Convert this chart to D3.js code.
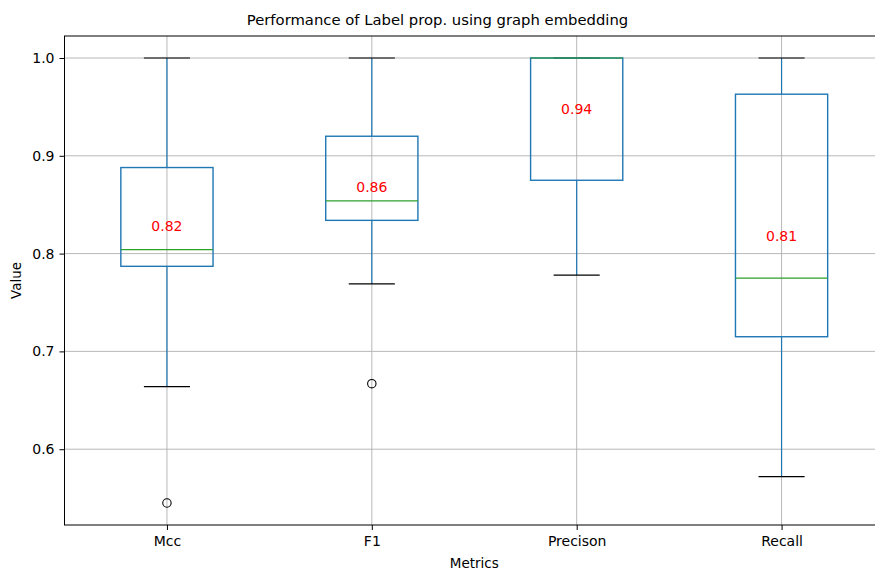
<!DOCTYPE html>
<html>
<head>
<meta charset="utf-8">
<script src="https://cdn.jsdelivr.net/npm/d3@7"></script>
<style>
  body { margin: 0; background: #fff; }
  svg { font-family: "DejaVu Sans", sans-serif; }
</style>
</head>
<body>
<svg id="chart"></svg>
<script>
// Box statistics
const metrics = ['Mcc', 'F1', 'Precison', 'Recall'];
const whiskerLow = [0.664, 0.769, 0.778, 0.572];
const q1 = [0.787, 0.834, 0.875, 0.715];
const median = [0.804, 0.854, 1.0, 0.775];
const q3 = [0.888, 0.920, 1.0, 0.963];
const whiskerHigh = [1.0, 1.0, 1.0, 1.0];
const outliers = [[0.545], [0.667], [], []];
const means = [0.82, 0.86, 0.94, 0.81];
const yTicks = [0.6, 0.7, 0.8, 0.9, 1.0];

const width = 875;
const height = 570;
const margin = { top: 36, right: -9, bottom: 45, left: 64.5 };

const svg = d3.select('#chart')
  .attr('width', width)
  .attr('height', height);

const innerW = width - margin.left - margin.right;
const innerH = height - margin.top - margin.bottom;

const g = svg.append('g')
  .attr('transform', `translate(${margin.left},${margin.top})`);

// positions 1..4 like matplotlib, xlim 0.5..4.5
const x = d3.scaleLinear().domain([0.5, 4.5]).range([0, innerW]);
const y = d3.scaleLinear().domain([0.5225, 1.0225]).range([innerH, 0]);

const boxW = x(1.45) - x(1);
const capW = boxW / 2;

// grid
g.append('g')
  .selectAll('line')
  .data(yTicks)
  .join('line')
  .attr('x1', 0).attr('x2', innerW)
  .attr('y1', d => y(d)).attr('y2', d => y(d))
  .attr('stroke', '#b0b0b0').attr('stroke-width', 0.9);

g.append('g')
  .selectAll('line')
  .data(metrics)
  .join('line')
  .attr('x1', (d, i) => x(i + 1)).attr('x2', (d, i) => x(i + 1))
  .attr('y1', 0).attr('y2', innerH)
  .attr('stroke', '#b0b0b0').attr('stroke-width', 0.9);

// boxes
const boxes = g.append('g')
  .selectAll('g')
  .data(metrics)
  .join('g');

boxes.append('line') // lower whisker
  .attr('x1', (d, i) => x(i + 1)).attr('x2', (d, i) => x(i + 1))
  .attr('y1', (d, i) => y(q1[i])).attr('y2', (d, i) => y(whiskerLow[i]))
  .attr('stroke', '#1f77b4').attr('stroke-width', 1.2);

boxes.append('line') // upper whisker
  .attr('x1', (d, i) => x(i + 1)).attr('x2', (d, i) => x(i + 1))
  .attr('y1', (d, i) => y(q3[i])).attr('y2', (d, i) => y(whiskerHigh[i]))
  .attr('stroke', '#1f77b4').attr('stroke-width', 1.2);

boxes.append('line') // lower cap
  .attr('x1', (d, i) => x(i + 1) - capW / 2).attr('x2', (d, i) => x(i + 1) + capW / 2)
  .attr('y1', (d, i) => y(whiskerLow[i])).attr('y2', (d, i) => y(whiskerLow[i]))
  .attr('stroke', '#000').attr('stroke-width', 1.2);

boxes.append('line') // upper cap
  .attr('x1', (d, i) => x(i + 1) - capW / 2).attr('x2', (d, i) => x(i + 1) + capW / 2)
  .attr('y1', (d, i) => y(whiskerHigh[i])).attr('y2', (d, i) => y(whiskerHigh[i]))
  .attr('stroke', '#000').attr('stroke-width', 1.2);

boxes.append('rect')
  .attr('x', (d, i) => x(i + 1) - boxW / 2)
  .attr('width', boxW)
  .attr('y', (d, i) => y(q3[i]))
  .attr('height', (d, i) => y(q1[i]) - y(q3[i]))
  .attr('fill', 'none')
  .attr('stroke', '#1f77b4').attr('stroke-width', 1.4);

boxes.append('line') // median
  .attr('x1', (d, i) => x(i + 1) - boxW / 2).attr('x2', (d, i) => x(i + 1) + boxW / 2)
  .attr('y1', (d, i) => y(median[i])).attr('y2', (d, i) => y(median[i]))
  .attr('stroke', '#2ca02c').attr('stroke-width', 1.2);

boxes.selectAll('circle')
  .data((d, i) => outliers[i].map(v => ({ v, i })))
  .join('circle')
  .attr('cx', d => x(d.i + 1))
  .attr('cy', d => y(d.v))
  .attr('r', 4.2)
  .attr('fill', 'none')
  .attr('stroke', '#000').attr('stroke-width', 1.1);

// mean labels
boxes.append('text')
  .attr('x', (d, i) => x(i + 1))
  .attr('y', (d, i) => y(means[i]) - 8)
  .attr('dy', '0.35em')
  .attr('text-anchor', 'middle')
  .attr('fill', 'red')
  .attr('font-size', 14)
  .text((d, i) => means[i].toFixed(2));

// frame
g.append('rect')
  .attr('width', innerW).attr('height', innerH)
  .attr('fill', 'none')
  .attr('stroke', '#000').attr('stroke-width', 1);

// axes
const yAxis = g.append('g')
  .call(d3.axisLeft(y).tickValues(yTicks).tickFormat(d3.format('.1f')).tickSize(5).tickPadding(5));
yAxis.select('.domain').remove();
yAxis.selectAll('text').attr('font-size', 14).attr('font-family', '"DejaVu Sans", sans-serif').attr('fill', '#000');

const xAxis = g.append('g')
  .attr('transform', `translate(0,${innerH})`)
  .call(d3.axisBottom(x).tickValues([1, 2, 3, 4]).tickFormat(d => metrics[d - 1]).tickSize(5).tickPadding(6));
xAxis.select('.domain').remove();
xAxis.selectAll('text').attr('font-size', 14).attr('font-family', '"DejaVu Sans", sans-serif').attr('fill', '#000');

// titles
svg.append('text')
  .attr('x', 437.5).attr('y', 25)
  .attr('text-anchor', 'middle')
  .attr('font-size', 14.8)
  .text('Performance of Label prop. using graph embedding');

svg.append('text')
  .attr('x', margin.left + innerW / 2).attr('y', 568)
  .attr('text-anchor', 'middle')
  .attr('font-size', 13.5)
  .text('Metrics');

svg.append('text')
  .attr('transform', `translate(21,${margin.top + innerH / 2}) rotate(-90)`)
  .attr('text-anchor', 'middle')
  .attr('font-size', 13.5)
  .text('Value');
</script>
</body>
</html>
